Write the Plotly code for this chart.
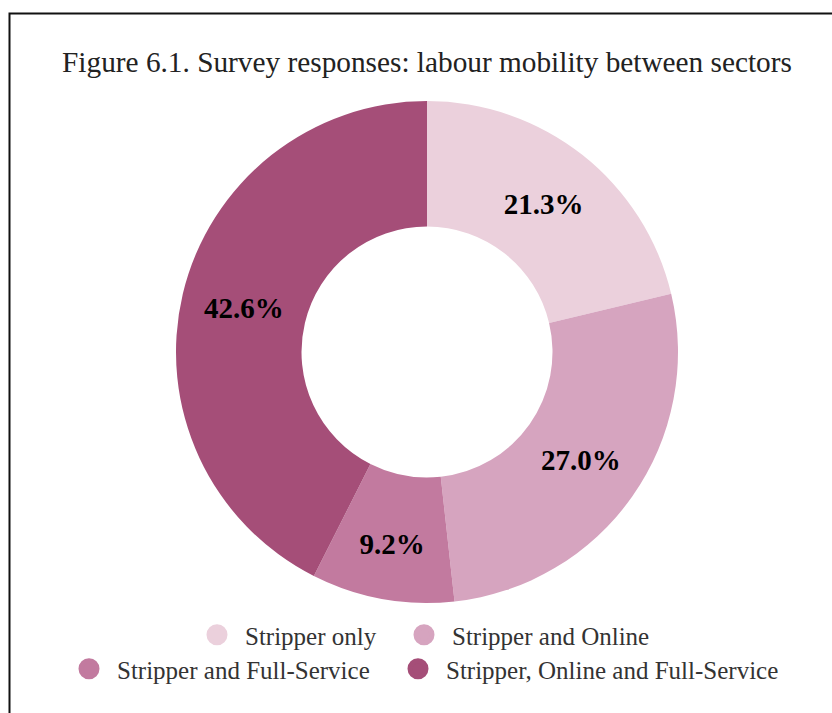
import plotly.graph_objects as go

categories = ["Stripper only", "Stripper and Online", "Stripper and Full-Service",
              "Stripper, Online and Full-Service"]
values = [21.3, 27.0, 9.2, 42.6]
colors = ["#EBD0DC", "#D6A4BF", "#C27A9F", "#A54E78"]
title_text = "Figure 6.1. Survey responses: labour mobility between sectors"

W, H = 832, 713
serif = "Times New Roman, Liberation Serif, Tinos, serif"

fig = go.Figure()
fig.add_trace(go.Pie(
    labels=categories, values=values, hole=0.5, sort=False, direction="clockwise",
    rotation=0, marker=dict(colors=colors, line=dict(width=0)),
    texttemplate="<b>%{value:.1f}%</b>", textposition="inside",
    insidetextorientation="horizontal",
    textfont=dict(family=serif, size=29, color="#000000"),
    domain=dict(x=[176 / W, 678 / W], y=[(H - 603) / H, (H - 101) / H]),
    showlegend=False, hoverinfo="label+percent",
))

# one legend per entry so the two rows can be laid out like the original
legend_names = ["legend", "legend2", "legend3", "legend4"]
legend_x = [189, 396, 61, 390]      # px, left edge of each legend box
legend_y = [635, 635, 669, 669]     # px, vertical middle of each row

for name, col, lg in zip(categories, colors, legend_names):
    fig.add_trace(go.Scatter(
        x=[None], y=[None], mode="markers", name=name,
        marker=dict(color=col, size=16, symbol="circle", line=dict(color=col, width=5)),
        legend=lg,
    ))

legend_common = dict(orientation="h", xanchor="left", yanchor="middle",
                     bgcolor="rgba(0,0,0,0)", itemwidth=46,
                     font=dict(family=serif, size=25, color="#333333"))
legend_layout = {lg: dict(x=lx / W, y=1 - ly / H, **legend_common)
                 for lg, lx, ly in zip(legend_names, legend_x, legend_y)}

fig.update_layout(
    width=W, height=H,
    margin=dict(l=0, r=0, t=0, b=0),
    paper_bgcolor="white", plot_bgcolor="white",
    title=dict(text=title_text, x=427 / W, xanchor="center", y=1 - 62 / H, yanchor="middle",
               font=dict(family=serif, size=29.3, color="#222222")),
    xaxis=dict(visible=False), yaxis=dict(visible=False),
    shapes=[dict(type="rect", xref="paper", yref="paper",
                 x0=9.5 / W, x1=1.2, y0=-0.2, y1=1 - 13.5 / H,
                 line=dict(color="#111111", width=2), fillcolor="rgba(0,0,0,0)")],
    **legend_layout,
)

fig.write_html("out.html", config={"displayModeBar": False},
               post_script="document.body.style.margin='0';")
